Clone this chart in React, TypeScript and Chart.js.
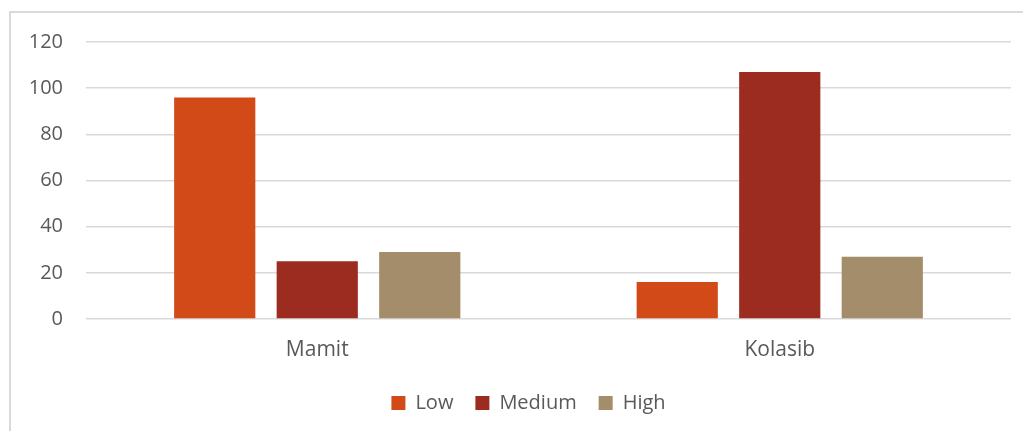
import React, { useEffect, useRef } from "react";
import { Chart, registerables } from "chart.js";

Chart.register(...registerables);

const districts = ["Mamit", "Kolasib"];
const lowValues = [96, 16];
const mediumValues = [25, 107];
const highValues = [29, 27];
const yTicks = [0, 20, 40, 60, 80, 100, 120];

const FONT = "'Open Sans', 'Noto Sans', sans-serif";
const TEXT = "#595959";
const GRID = "#d9d9d9";

// Centre the legend row under the frame rather than the whole canvas.
const legendOffset = {
  id: "legendOffset",
  afterLayout(chart: any) {
    const legend = chart.legend;
    if (legend) {
      legend.left = 46;
      legend.right = 1011;
    }
  },
};

export default function App() {
  const canvasRef = useRef<HTMLCanvasElement | null>(null);

  useEffect(() => {
    if (!canvasRef.current) return;
    const chart = new Chart(canvasRef.current, {
      type: "bar",
      data: {
        labels: districts,
        datasets: [
          { label: "Low", data: lowValues, backgroundColor: "#D24A18" },
          { label: "Medium", data: mediumValues, backgroundColor: "#9C2C20" },
          { label: "High", data: highValues, backgroundColor: "#A48D6A" },
        ],
      },
      plugins: [legendOffset],
      options: {
        animation: false,
        responsive: false,
        maintainAspectRatio: false,
        layout: { padding: { top: 42, right: 12, bottom: 37, left: 0 } },
        datasets: {
          bar: { barPercentage: 0.792, categoryPercentage: 0.665 },
        },
        plugins: {
          tooltip: { enabled: false },
          title: { display: false },
          legend: {
            position: "bottom",
            labels: {
              color: TEXT,
              font: { family: FONT, size: 20 },
              boxWidth: 14,
              boxHeight: 14,
              padding: 22,
            },
          },
        },
        scales: {
          x: {
            grid: { display: false, drawTicks: false },
            border: { display: false },
            ticks: { color: TEXT, font: { family: FONT, size: 21 }, padding: 18 },
            afterFit: (scale: any) => {
              scale.height = 52;
            },
          },
          y: {
            min: 0,
            max: 120,
            afterBuildTicks: (scale: any) => {
              scale.ticks = yTicks.map((v) => ({ value: v }));
            },
            grid: { color: GRID, lineWidth: 1.5, drawTicks: false },
            border: { display: false },
            ticks: { color: TEXT, font: { family: FONT, size: 20 }, padding: 23 },
            afterFit: (scale: any) => {
              scale.width = 86;
            },
          },
        },
      },
    });
    return () => chart.destroy();
  }, []);

  return (
    <div
      style={{
        position: "fixed",
        left: 0,
        top: 0,
        width: 1023,
        height: 431,
        overflow: "hidden",
        background: "#ffffff",
      }}
    >
      <div
        style={{
          position: "absolute",
          left: 9,
          top: 11,
          width: 1100,
          height: 600,
          borderLeft: `2px solid ${GRID}`,
          borderTop: `2px solid ${GRID}`,
        }}
      />
      <canvas
        ref={canvasRef}
        width={1023}
        height={460}
        style={{ position: "absolute", left: 0, top: 0, width: 1023, height: 460 }}
      />
    </div>
  );
}
